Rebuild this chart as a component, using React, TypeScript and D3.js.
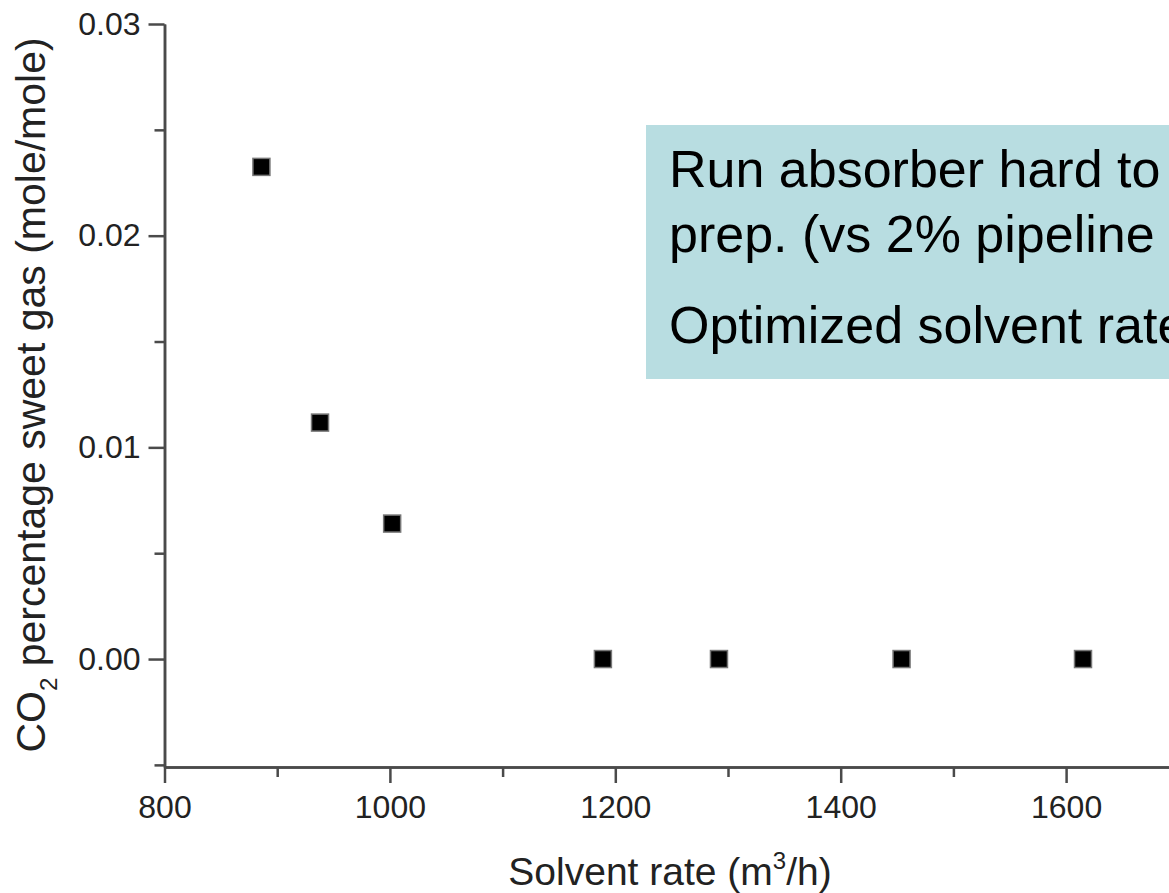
import React, { useEffect, useRef } from 'react';
import * as d3 from 'd3';

// solvent rate (m3/h) vs CO2 in sweet gas (mole/mole)
const solventRate = [886, 938, 1002, 1189, 1292, 1454, 1615];
const co2Sweet = [0.02325, 0.01117, 0.0064, 0, 0, 0, 0];

const xMajor = [800, 1000, 1200, 1400, 1600];
const xMinor = [900, 1100, 1300, 1500, 1700];
const yMajor = [0, 0.01, 0.02, 0.03];
const yMinor = [-0.005, 0.005, 0.015, 0.025];

const noteLines = ['Run absorber hard to', 'prep. (vs 2% pipeline', 'Optimized solvent rate'];

const FONT = '"Liberation Sans", Arial, Helvetica, sans-serif';

export default function App() {
  const ref = useRef<SVGSVGElement>(null);

  useEffect(() => {
    const svg = d3.select(ref.current);
    svg.selectAll('*').remove();

    const width = 1169, height = 893;
    const x = d3.scaleLinear().domain([800, 1800]).range([164.5, 1291.5]);
    const y = d3.scaleLinear().domain([-0.0051, 0.03]).range([767, 24]);

    svg.attr('width', width).attr('height', height);

    // note box
    const box = svg.append('g');
    box.append('rect')
      .attr('x', 646).attr('y', 125)
      .attr('width', 600).attr('height', 254)
      .attr('fill', '#b8dde1');
    const baselines = [187, 252, 343];
    box.selectAll('text')
      .data(noteLines)
      .enter().append('text')
      .attr('x', 669)
      .attr('y', (d, i) => baselines[i])
      .attr('font-family', FONT)
      .attr('font-size', 52)
      .attr('fill', '#000')
      .text(d => d);

    const axisColor = '#4a4a4a';

    const styleAxis = (g: any) => {
      g.select('.domain').attr('stroke', axisColor).attr('stroke-width', 2.5);
      g.selectAll('.tick line').attr('stroke', axisColor).attr('stroke-width', 2.5);
      g.selectAll('.tick text')
        .attr('font-family', FONT)
        .attr('font-size', 32)
        .attr('fill', '#222');
    };

    // x axis: minor then major ticks
    svg.append('g')
      .attr('transform', 'translate(0,767)')
      .call(d3.axisBottom(x).tickValues(xMinor).tickSize(10).tickSizeOuter(0).tickFormat(() => ''))
      .call(styleAxis);
    svg.append('g')
      .attr('transform', 'translate(0,767)')
      .call(d3.axisBottom(x).tickValues(xMajor).tickSize(16).tickSizeOuter(0).tickPadding(12).tickFormat(d3.format('d')))
      .call(styleAxis);

    // y axis
    svg.append('g')
      .attr('transform', 'translate(164.5,0)')
      .call(d3.axisLeft(y).tickValues(yMinor).tickSize(10).tickSizeOuter(0).tickFormat(() => ''))
      .call(styleAxis);
    svg.append('g')
      .attr('transform', 'translate(164.5,0)')
      .call(d3.axisLeft(y).tickValues(yMajor).tickSize(16).tickSizeOuter(0).tickPadding(8).tickFormat(d3.format('.2f')))
      .call(styleAxis);

    // points
    const s = 17;
    svg.selectAll('.dot')
      .data(solventRate)
      .enter().append('rect')
      .attr('class', 'dot')
      .attr('x', d => x(d) - s / 2)
      .attr('y', (d, i) => y(co2Sweet[i]) - s / 2)
      .attr('width', s).attr('height', s)
      .attr('fill', '#000')
      .attr('stroke', '#777')
      .attr('stroke-width', 1.5);

    // axis titles
    const xt = svg.append('text')
      .attr('x', 670).attr('y', 885)
      .attr('text-anchor', 'middle')
      .attr('font-family', FONT)
      .attr('font-size', 39)
      .attr('fill', '#222');
    xt.append('tspan').text('Solvent rate (m');
    xt.append('tspan').attr('font-size', 24).attr('dy', -16).text('3');
    xt.append('tspan').attr('dy', 16).text('/h)');

    const yt = svg.append('text')
      .attr('transform', 'translate(45,395) rotate(-90)')
      .attr('text-anchor', 'middle')
      .attr('font-family', FONT)
      .attr('font-size', 41)
      .attr('fill', '#222');
    yt.append('tspan').text('CO');
    yt.append('tspan').attr('font-size', 24).attr('dy', 12).text('2');
    yt.append('tspan').attr('dy', -12).text(' percentage sweet gas (mole/mole)');
  }, []);

  return (
    <svg ref={ref} style={{ position: 'absolute', left: 0, top: 0, background: '#fff' }} />
  );
}
